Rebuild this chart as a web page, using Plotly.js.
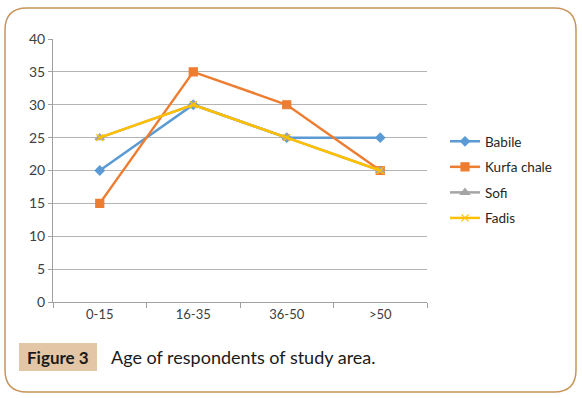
<!DOCTYPE html>
<html><head><meta charset="utf-8">
<script src="https://cdn.plot.ly/plotly-3.0.1.min.js"></script>
<style>html,body{margin:0;padding:0;background:#fff}#chart{width:582px;height:398px}</style>
</head><body><div id="chart"></div>
<script>
const categories = ["0-15", "16-35", "36-50", ">50"];
const babile = [20, 30, 25, 25];
const kurfaChale = [15, 35, 30, 20];
const sofi = [25, 30, 25, 20];
const fadis = [25, 30, 25, 20];
const seriesNames = ["Babile", "Kurfa chale", "Sofi", "Fadis"];
const yTicks = [0, 5, 10, 15, 20, 25, 30, 35, 40];
const captionLabel = "Figure 3";
const captionText = "Age of respondents of study area.";

const L = 53, R = 427, T = 39, B = 302;
const px = v => (v - L) / (R - L);
const py = v => (B - v) / (B - T);

const font = "Lato, 'Open Sans', sans-serif";
const styles = [
  {color: "#5b9bd5", symbol: "diamond", size: 7},
  {color: "#ed7d31", symbol: "square", size: 8},
  {color: "#a5a5a5", symbol: "triangle-up", size: 8},
  {color: "#ffc000", symbol: "x-thin-open", size: 7}
];
const data = [babile, kurfaChale, sofi, fadis].map((vals, i) => ({
  type: "scatter", mode: "lines+markers", x: categories, y: vals, name: seriesNames[i],
  legendgroup: "g" + i,
  line: {color: styles[i].color, width: 2.5},
  marker: {color: styles[i].color, symbol: styles[i].symbol, size: styles[i].size,
           line: {color: styles[i].color, width: 1.2}}
}));

// rounded frame
const fx0 = 5, fx1 = 576, fy0 = 8, fy1 = 392, r = 22;
const framePath = [
  `M ${px(fx0 + r)} ${py(fy0)}`,
  `L ${px(fx1 - r)} ${py(fy0)}`,
  `Q ${px(fx1)} ${py(fy0)} ${px(fx1)} ${py(fy0 + r)}`,
  `L ${px(fx1)} ${py(fy1 - r)}`,
  `Q ${px(fx1)} ${py(fy1)} ${px(fx1 - r)} ${py(fy1)}`,
  `L ${px(fx0 + r)} ${py(fy1)}`,
  `Q ${px(fx0)} ${py(fy1)} ${px(fx0)} ${py(fy1 - r)}`,
  `L ${px(fx0)} ${py(fy0 + r)}`,
  `Q ${px(fx0)} ${py(fy0)} ${px(fx0 + r)} ${py(fy0)} Z`
].join(" ");

const layout = {
  width: 582, height: 398,
  margin: {l: L, r: 582 - R, t: T, b: 398 - B},
  paper_bgcolor: "#ffffff", plot_bgcolor: "#ffffff",
  font: {family: font, color: "#404040", size: 13},
  showlegend: true,
  legend: {x: px(445), xanchor: "left", y: py(126), yanchor: "top",
           font: {family: font, size: 13.5, color: "#262626"},
           traceorder: "grouped", tracegroupgap: 5, itemwidth: 30,
           bgcolor: "rgba(0,0,0,0)"},
  xaxis: {type: "category", range: [-0.5, 3.5], showgrid: false, zeroline: false,
          showline: true, linecolor: "#a0a0a0", linewidth: 1,
          ticks: "outside", tickson: "boundaries", ticklen: 5, tickcolor: "#a0a0a0",
          tickfont: {family: font, size: 13, color: "#404040"}, fixedrange: true},
  yaxis: {range: [0, 40], tickvals: yTicks, showgrid: true, gridcolor: "#b4b4b4", gridwidth: 1,
          zeroline: false, showline: true, linecolor: "#a0a0a0", linewidth: 1,
          ticks: "outside", ticklen: 4, tickcolor: "#a0a0a0",
          tickfont: {family: font, size: 14, color: "#404040"}, fixedrange: true},
  shapes: [
    {type: "path", xref: "paper", yref: "paper", path: framePath, layer: "below",
     line: {color: "#c8955c", width: 1.5}, fillcolor: "rgba(0,0,0,0)"},
    {type: "rect", xref: "paper", yref: "paper", x0: px(19), x1: px(97), y0: py(343), y1: py(371),
     layer: "below", line: {width: 0}, fillcolor: "#e3c6a5"}
  ],
  annotations: [
    {xref: "paper", yref: "paper", x: px(58), y: py(357), xanchor: "center", yanchor: "middle",
     text: "<b>" + captionLabel + "</b>", showarrow: false,
     font: {family: font, size: 17, color: "#1a1a1a"}},
    {xref: "paper", yref: "paper", x: px(109), y: py(357), xanchor: "left", yanchor: "middle",
     text: captionText, showarrow: false,
     font: {family: font, size: 18, color: "#1a1a1a"}}
  ]
};
Plotly.newPlot("chart", data, layout, {displayModeBar: false, staticPlot: true});
</script></body></html>
